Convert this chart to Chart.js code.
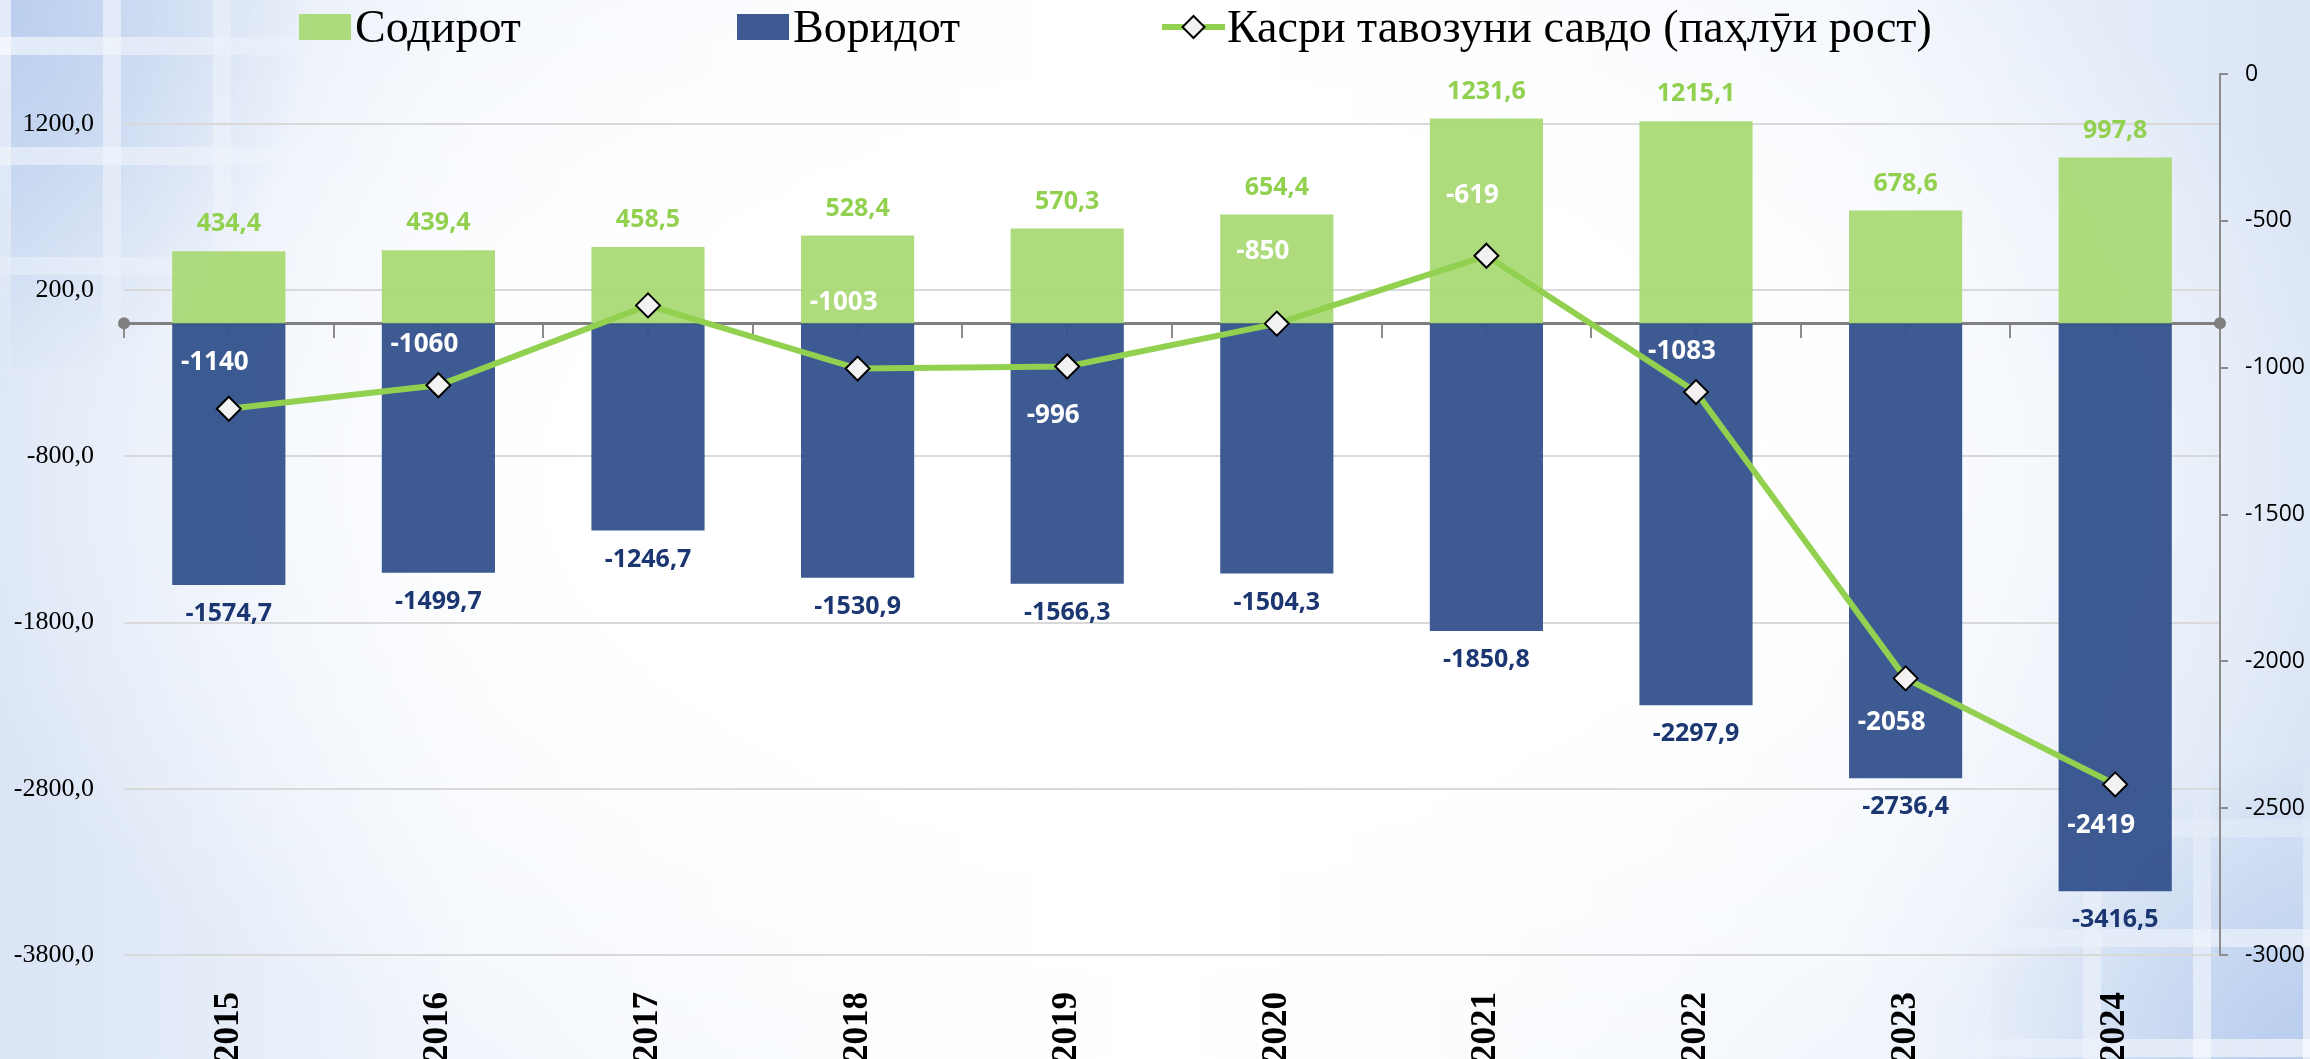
<!DOCTYPE html>
<html>
<head>
<meta charset="utf-8">
<script src="https://cdn.jsdelivr.net/npm/chart.js@4.4.1/dist/chart.umd.min.js"></script>
<style>
  html, body { margin: 0; padding: 0; }
  body {
    width: 2310px; height: 1059px; position: relative; overflow: hidden;
    background:
      radial-gradient(ellipse 55% 65% at 50% 45%, #ffffff 45%, rgba(255,255,255,0) 100%),
      linear-gradient(90deg, #d9e4f5 0%, #f2f6fc 20%, #ffffff 50%, #f2f6fc 80%, #d9e4f5 100%);
  }
  .tiles {
    position: absolute;
    background-image:
      repeating-linear-gradient(90deg, rgba(255,255,255,0.6) 0 18px, transparent 18px 110px),
      repeating-linear-gradient(180deg, rgba(255,255,255,0.6) 0 18px, transparent 18px 110px),
      linear-gradient(rgba(150,180,230,0.45), rgba(150,180,230,0.45));
  }
  #tilesTL {
    left: 0; top: 0; width: 560px; height: 620px;
    background-position: -7px 37px, -7px 37px, 0 0;
    -webkit-mask-image: radial-gradient(ellipse 80% 90% at 0 0, #000 5%, transparent 70%);
    mask-image: radial-gradient(ellipse 80% 90% at 0 0, #000 5%, transparent 70%);
  }
  #tilesBR {
    right: 0; bottom: 0; width: 560px; height: 480px;
    background-position: 3px 20px, 3px 20px, 0 0;
    -webkit-mask-image: radial-gradient(ellipse 90% 90% at 100% 100%, #000 10%, transparent 70%);
    mask-image: radial-gradient(ellipse 90% 90% at 100% 100%, #000 10%, transparent 70%);
  }
  #wrap { position: absolute; left: 0; top: 0; width: 2310px; height: 1059px; }
  #legend .item {
    position: absolute; top: 2px; height: 50px; line-height: 50px;
    display: flex; align-items: center; white-space: nowrap;
    font-family: "Liberation Serif", serif; font-size: 46px; color: #000;
  }
  #legend .box { display: inline-block; width: 52px; height: 26px; margin-right: 4px; }
  #legend svg { margin-right: 2px; }
</style>
</head>
<body>
<div class="tiles" id="tilesTL"></div>
<div class="tiles" id="tilesBR"></div>
<div id="wrap"><canvas id="tradeChart"></canvas></div>
<div id="legend"></div>
<script>
// Tajikistan foreign trade, mln USD
var years = ['2015', '2016', '2017', '2018', '2019', '2020', '2021', '2022', '2023', '2024'];
var exportsMln = [434.4, 439.4, 458.5, 528.4, 570.3, 654.4, 1231.6, 1215.1, 678.6, 997.8];
var importsMln = [-1574.7, -1499.7, -1246.7, -1530.9, -1566.3, -1504.3, -1850.8, -2297.9, -2736.4, -3416.5];
var balanceMln = [-1140, -1060, -788, -1003, -996, -850, -619, -1083, -2058, -2419];
var seriesNames = ['Содирот', 'Воридот', 'Касри тавозуни савдо (паҳлӯи рост)'];
var leftTicks = [-3800, -2800, -1800, -800, 200, 1200];

var greenBar = 'rgba(168,216,114,0.93)';
var blueBar = 'rgba(46,78,138,0.93)';
var lineGreen = '#92d050';

// where the balance labels sit relative to their point (null = no label)
var balanceLabelDy = [-46, -41, null, -66, 49, -72, -60, -40, 44, 41];

function commaNum(v) {
  return String(v).replace('.', ',');
}

var valueLabels = {
  id: 'valueLabels',
  afterDatasetsDraw: function(chart) {
    var ctx = chart.ctx;
    ctx.save();
    ctx.textAlign = 'center';
    ctx.textBaseline = 'middle';

    ctx.font = 'bold 25px "Open Sans"';
    ctx.fillStyle = '#92d050';
    chart.getDatasetMeta(0).data.forEach(function(bar, i) {
      ctx.fillText(commaNum(exportsMln[i]), bar.x, bar.y - 27);
    });
    ctx.fillStyle = '#1b3670';
    chart.getDatasetMeta(1).data.forEach(function(bar, i) {
      ctx.fillText(commaNum(importsMln[i]), bar.x, bar.y + 29);
    });

    ctx.font = 'bold 26px "Open Sans"';
    ctx.fillStyle = '#ffffff';
    chart.getDatasetMeta(2).data.forEach(function(pt, i) {
      if (balanceLabelDy[i] === null) return;
      ctx.fillText(String(balanceMln[i]), pt.x - 14, pt.y + balanceLabelDy[i]);
    });
    ctx.restore();
  }
};

// small round caps on both ends of the zero line
var axisDots = {
  id: 'axisDots',
  afterDraw: function(chart) {
    var ctx = chart.ctx;
    var y0 = chart.scales.y.getPixelForValue(0);
    ctx.save();
    ctx.fillStyle = '#808080';
    [chart.chartArea.left, chart.chartArea.right].forEach(function(x) {
      ctx.beginPath();
      ctx.arc(x, y0, 6, 0, Math.PI * 2);
      ctx.fill();
    });
    ctx.restore();
  }
};

var data = {
  labels: years,
  datasets: [{
    label: seriesNames[0],
    data: exportsMln,
    backgroundColor: greenBar,
    borderWidth: 0,
    barPercentage: 0.9,
    categoryPercentage: 0.6,
    order: 2
  }, {
    label: seriesNames[1],
    data: importsMln,
    backgroundColor: blueBar,
    borderWidth: 0,
    barPercentage: 0.9,
    categoryPercentage: 0.6,
    order: 2
  }, {
    type: 'line',
    label: seriesNames[2],
    data: balanceMln,
    yAxisID: 'y2',
    borderColor: lineGreen,
    borderWidth: 6,
    tension: 0,
    fill: false,
    pointStyle: 'rectRot',
    pointRadius: 12,
    pointBackgroundColor: '#f2f2f2',
    pointBorderColor: '#000000',
    pointBorderWidth: 2,
    order: 0
  }]
};

var config = {
  type: 'bar',
  data: data,
  options: {
    responsive: true,
    maintainAspectRatio: false,
    animation: false,
    layout: { padding: { top: 74, left: 0, right: 0, bottom: 0 } },
    plugins: { legend: { display: false }, tooltip: { enabled: false } },
    scales: {
      x: {
        stacked: true,
        offset: true,
        grid: { display: false },
        border: { display: false },
        ticks: {
          minRotation: 90, maxRotation: 90, padding: 29, color: '#000',
          font: { family: 'Liberation Serif', size: 35, weight: 'bold' }
        },
        afterFit: function(s) { s.height = 104; }
      },
      x0: {
        type: 'category',
        position: { y: 0 },
        offset: true,
        z: 1,
        grid: { offset: true, drawOnChartArea: false, tickLength: 13, color: '#8c8c8c', lineWidth: 2 },
        border: { color: '#808080', width: 3 },
        ticks: { display: false }
      },
      xc: {
        type: 'category',
        position: { y: 0 },
        offset: true,
        z: 1,
        grid: { offset: false, drawOnChartArea: false, tickLength: 10, color: 'rgba(150,150,150,0.8)', lineWidth: 2 },
        border: { display: false },
        ticks: { display: false }
      },
      y: {
        stacked: true,
        min: -3800,
        max: 1500,
        afterBuildTicks: function(s) {
          s.ticks = leftTicks.map(function(v) { return { value: v }; });
        },
        grid: { color: '#d9d9d9', lineWidth: 2, drawTicks: false },
        border: { display: false },
        ticks: {
          padding: 30, color: '#000',
          font: { family: 'Liberation Serif', size: 26 },
          callback: function(v) { return Number(v).toFixed(1).replace('.', ','); }
        },
        afterFit: function(s) { s.width = 124; }
      },
      y2: {
        position: 'right',
        min: -3000,
        max: 0,
        grid: { drawOnChartArea: false, tickLength: 8, color: '#8c8c8c', lineWidth: 2 },
        border: { color: '#8c8c8c', width: 2 },
        ticks: {
          stepSize: 500, padding: 17, color: '#000',
          font: { family: 'Open Sans', size: 23 },
          callback: function(v) { return String(v); }
        },
        afterFit: function(s) { s.width = 90; }
      }
    }
  },
  plugins: [valueLabels, axisDots]
};

var chart = new Chart(document.getElementById('tradeChart'), config);

// legend built from the dataset list
var legendLeft = [299, 737, 1162];
var legendEl = document.getElementById('legend');
chart.data.datasets.forEach(function(ds, i) {
  var item = document.createElement('div');
  item.className = 'item';
  item.style.left = legendLeft[i] + 'px';
  var icon;
  if (ds.type === 'line') {
    icon = '<svg width="63" height="30" viewBox="0 0 63 30">' +
      '<line x1="0" y1="15" x2="63" y2="15" stroke="' + lineGreen + '" stroke-width="6" stroke-linecap="round"/>' +
      '<polygon points="31.5,4 42.5,15 31.5,26 20.5,15" fill="#f2f2f2" stroke="#000" stroke-width="2"/></svg>';
  } else {
    icon = '<span class="box" style="background:' + ds.backgroundColor + '"></span>';
  }
  item.innerHTML = icon + '<span>' + ds.label + '</span>';
  legendEl.appendChild(item);
});
</script>
</body>
</html>
